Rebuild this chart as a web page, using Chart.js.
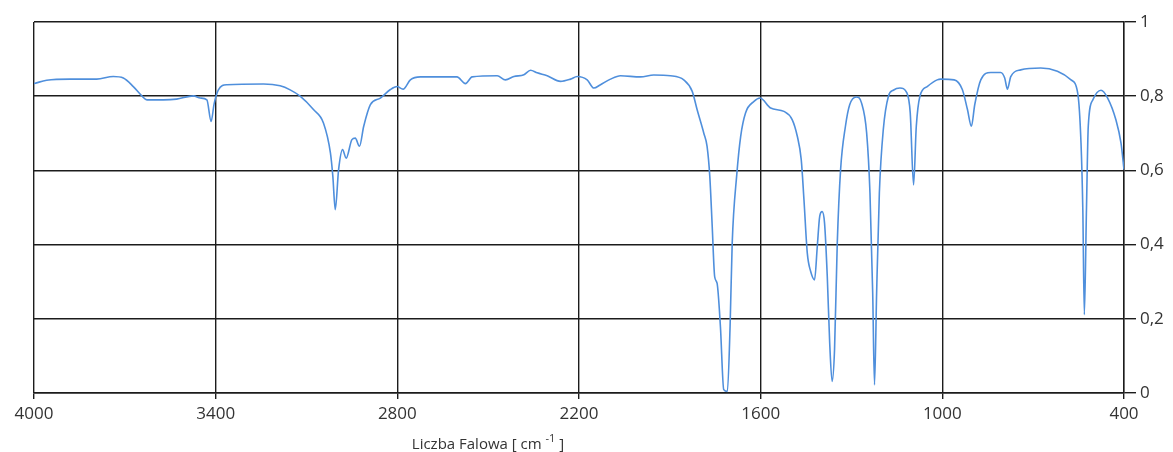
<!DOCTYPE html>
<html lang="pl">
<head>
<meta charset="utf-8">
<title>Widmo IR</title>
<script src="https://cdn.jsdelivr.net/npm/chart.js@4/dist/chart.umd.min.js"></script>
<style>
  html, body { margin: 0; padding: 0; background: #fff; }
  #wrap { width: 1173px; height: 452px; position: relative; }
</style>
</head>
<body>
<div id="wrap"><canvas id="widmoChart"></canvas></div>
<script>
const liczbaFalowa = [
  4000, 3958, 3881, 3793, 3738, 3705, 3672, 3644, 3627, 3573, 3529, 3473, 3451, 3429, 3415, 3405,
  3391, 3363, 3242, 3187, 3154, 3121, 3077, 3044, 3021, 3013, 3005, 2994, 2981, 2969, 2950, 2939,
  2925, 2911, 2889, 2856, 2823, 2801, 2781, 2757, 2724, 2603, 2575, 2553, 2470, 2443, 2415, 2382,
  2360, 2338, 2305, 2261, 2228, 2206, 2173, 2151, 2129, 2096, 2063, 1997, 1953, 1898, 1854, 1826,
  1810, 1788, 1777, 1768, 1760, 1752, 1744, 1733, 1722, 1710, 1701, 1694, 1679, 1666, 1650, 1622,
  1602, 1567, 1523, 1496, 1479, 1466, 1457, 1446, 1435, 1422, 1413, 1405, 1397, 1389, 1380, 1372,
  1364, 1356, 1347, 1336, 1320, 1306, 1284, 1267, 1250, 1239, 1230, 1224, 1217, 1208, 1195, 1178,
  1162, 1140, 1117, 1106, 1095, 1086, 1074, 1050, 1017, 1005, 961, 934, 917, 904, 893, 873,
  840, 807, 794, 785, 774, 741, 675, 620, 575, 553, 542, 536, 531, 524, 518, 503,
  476, 454, 427, 410, 400
];
const transmitancja = [
  0.834, 0.843, 0.846, 0.846, 0.853, 0.849, 0.826, 0.801, 0.790, 0.790, 0.792, 0.801, 0.795, 0.790, 0.732, 0.780,
  0.817, 0.831, 0.833, 0.828, 0.817, 0.800, 0.764, 0.728, 0.647, 0.584, 0.494, 0.602, 0.656, 0.633, 0.683, 0.687,
  0.665, 0.719, 0.777, 0.795, 0.818, 0.826, 0.819, 0.844, 0.852, 0.852, 0.834, 0.852, 0.855, 0.844, 0.853, 0.858,
  0.870, 0.863, 0.855, 0.840, 0.846, 0.853, 0.844, 0.822, 0.831, 0.846, 0.855, 0.852, 0.857, 0.855, 0.844, 0.813,
  0.764, 0.701, 0.665, 0.584, 0.449, 0.314, 0.296, 0.180, 0.009, 0.004, 0.180, 0.404, 0.588, 0.692, 0.755, 0.786,
  0.795, 0.768, 0.759, 0.737, 0.692, 0.629, 0.521, 0.377, 0.328, 0.305, 0.395, 0.476, 0.489, 0.458, 0.314, 0.135,
  0.031, 0.117, 0.404, 0.602, 0.719, 0.777, 0.798, 0.782, 0.701, 0.539, 0.270, 0.022, 0.270, 0.539, 0.710, 0.800,
  0.816, 0.822, 0.809, 0.755, 0.561, 0.719, 0.800, 0.826, 0.844, 0.846, 0.844, 0.818, 0.764, 0.719, 0.777, 0.844,
  0.864, 0.864, 0.849, 0.819, 0.853, 0.871, 0.876, 0.867, 0.844, 0.809, 0.674, 0.494, 0.211, 0.494, 0.719, 0.790,
  0.816, 0.795, 0.737, 0.674, 0.602
];

// Osie
const xMin = 400, xMax = 4000, xKrok = 600;
const yMin = 0,   yMax = 1,    yKrok = 0.2;

const punkty = liczbaFalowa.map((x, i) => ({ x, y: transmitancja[i] }));

const FONT = "'Open Sans', 'Noto Sans', sans-serif";
const KOLOR_SIATKI = '#1c1c1c';

// Podpis osi X z indeksem górnym (cm^-1)
const podpisOsiX = {
  id: 'podpisOsiX',
  afterDraw(chart) {
    const ctx = chart.ctx;
    const cx = 488, cy = 445;
    const czesc1 = 'Liczba Falowa [ cm ';
    const wykl   = '-1';
    const czesc2 = ' ]';
    ctx.save();
    ctx.fillStyle = '#333';
    ctx.textBaseline = 'middle';
    ctx.font = '15px ' + FONT;
    const w1 = ctx.measureText(czesc1).width;
    const w3 = ctx.measureText(czesc2).width;
    ctx.font = '11px ' + FONT;
    const w2 = ctx.measureText(wykl).width;
    let x = cx - (w1 + w2 + w3) / 2;
    ctx.font = '15px ' + FONT;
    ctx.fillText(czesc1, x, cy);
    x += w1;
    ctx.font = '11px ' + FONT;
    ctx.fillText(wykl, x, cy - 6);
    x += w2;
    ctx.font = '15px ' + FONT;
    ctx.fillText(czesc2, x, cy);
    ctx.restore();
  }
};

new Chart(document.getElementById('widmoChart'), {
  type: 'line',
  data: {
    datasets: [{
      data: punkty,
      borderColor: '#4f8fdc',
      borderWidth: 1.6,
      pointRadius: 0,
      fill: false,
      cubicInterpolationMode: 'monotone'
    }]
  },
  options: {
    responsive: true,
    maintainAspectRatio: false,
    animation: false,
    layout: { padding: { top: 22, left: 34, right: 0, bottom: 0 } },
    plugins: {
      legend: { display: false },
      tooltip: { enabled: false }
    },
    scales: {
      x: {
        type: 'linear',
        reverse: true,
        min: xMin,
        max: xMax,
        afterFit: s => { s.height = 59; },
        grid: { color: KOLOR_SIATKI, lineWidth: 1.4, tickLength: 6, drawTicks: true },
        border: { color: KOLOR_SIATKI, width: 1.4 },
        ticks: {
          stepSize: xKrok,
          color: '#333',
          padding: 5,
          maxRotation: 0,
          font: { family: FONT, size: 17 },
          callback: v => String(v)
        }
      },
      y: {
        position: 'right',
        min: yMin,
        max: yMax,
        afterFit: s => { s.width = 49; },
        grid: { color: KOLOR_SIATKI, lineWidth: 1.4, tickLength: 12, drawTicks: true },
        border: { color: KOLOR_SIATKI, width: 1.4 },
        ticks: {
          stepSize: yKrok,
          color: '#333',
          padding: 4,
          font: { family: FONT, size: 17 },
          callback: v => String(Math.round(v * 10) / 10).replace('.', ',')
        }
      }
    }
  },
  plugins: [podpisOsiX]
});
</script>
</body>
</html>
